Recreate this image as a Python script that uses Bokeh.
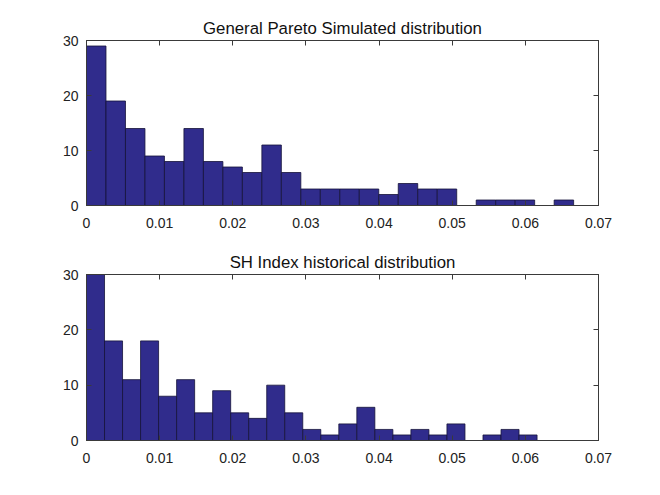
import numpy as np
from bokeh.plotting import figure
from bokeh.layouts import column
from bokeh.models import LinearAxis, FixedTicker, Range1d, ColumnDataSource
from bokeh.embed import file_html
from bokeh.resources import INLINE

# ---- data ----
top_title = "General Pareto Simulated distribution"
top_counts = [29, 19, 14, 9, 8, 14, 8, 7, 6, 11, 6, 3, 3, 3, 3, 2, 4, 3, 3, 0, 1, 1, 1, 0, 1]
top_range = [0.0, 0.0666]

bottom_title = "SH Index historical distribution"
bottom_counts = [30, 18, 11, 18, 8, 11, 5, 9, 5, 4, 10, 5, 2, 1, 3, 6, 2, 1, 2, 1, 3, 0, 1, 2, 1]
bottom_range = [0.0, 0.0616]

x_ticks = [0.0, 0.01, 0.02, 0.03, 0.04, 0.05, 0.06, 0.07]
x_tick_labels = ["0", "0.01", "0.02", "0.03", "0.04", "0.05", "0.06", "0.07"]
y_ticks = [0, 10, 20, 30]

BAR = "#302c8c"
EDGE = "#15133a"
AXC = "#3a3a3a"
FONT = "Liberation Sans"


def make_hist(title, counts, rng, top_border, bottom_border, fh):
    edges = np.linspace(rng[0], rng[1], len(counts) + 1)
    src = ColumnDataSource(dict(left=edges[:-1], right=edges[1:],
                                top=counts, bottom=[0] * len(counts)))
    p = figure(frame_width=512, frame_height=fh,
               width=652, output_backend="svg", toolbar_location=None,
               x_range=Range1d(0, 0.07), y_range=Range1d(0, 30),
               min_border_left=86, min_border_right=54,
               min_border_top=top_border, min_border_bottom=bottom_border,
               background_fill_color="white", border_fill_color="white")
    p.quad(left="left", right="right", top="top", bottom="bottom", source=src,
           fill_color=BAR, line_color=EDGE, line_width=0.8)
    p.grid.visible = False
    p.outline_line_color = AXC
    p.outline_line_width = 1
    p.title.text = title
    p.title.align = "center"
    p.title.text_font = FONT
    p.title.text_font_size = "16.8px"
    p.title.text_font_style = "normal"
    p.title.text_color = "#111111"
    p.title.standoff = 5

    for ax in p.xaxis:
        ax.ticker = FixedTicker(ticks=x_ticks)
        ax.major_label_overrides = {t: l for t, l in zip(x_ticks, x_tick_labels)}
        ax.major_label_standoff = 12
    for ax in p.yaxis:
        ax.ticker = FixedTicker(ticks=y_ticks)
        ax.major_label_standoff = 8
    for ax in list(p.xaxis) + list(p.yaxis):
        ax.major_tick_in = 5
        ax.major_tick_out = 0
        ax.minor_tick_in = 0
        ax.minor_tick_out = 0
        ax.axis_line_color = AXC
        ax.major_tick_line_color = AXC
        ax.major_label_text_font = FONT
        ax.major_label_text_font_size = "14px"
        ax.major_label_text_color = "#222222"

    # mirrored ticks (MATLAB box style), no labels
    ax_top = LinearAxis(ticker=FixedTicker(ticks=x_ticks))
    ax_right = LinearAxis(ticker=FixedTicker(ticks=y_ticks))
    for ax in (ax_top, ax_right):
        ax.major_tick_in = 5
        ax.major_tick_out = 0
        ax.minor_tick_in = 0
        ax.minor_tick_out = 0
        ax.axis_line_color = AXC
        ax.major_tick_line_color = AXC
        ax.major_label_text_font_size = "1px"
        ax.major_label_text_color = None
        ax.major_label_standoff = 0
    p.add_layout(ax_top, "above")
    p.add_layout(ax_right, "right")
    return p


p1 = make_hist(top_title, top_counts, top_range, 40, 35, 165)
p2 = make_hist(bottom_title, bottom_counts, bottom_range, 34, 35, 166)
p = column(p1, p2, spacing=0)

open("out.html", "w").write(file_html(p, INLINE))
